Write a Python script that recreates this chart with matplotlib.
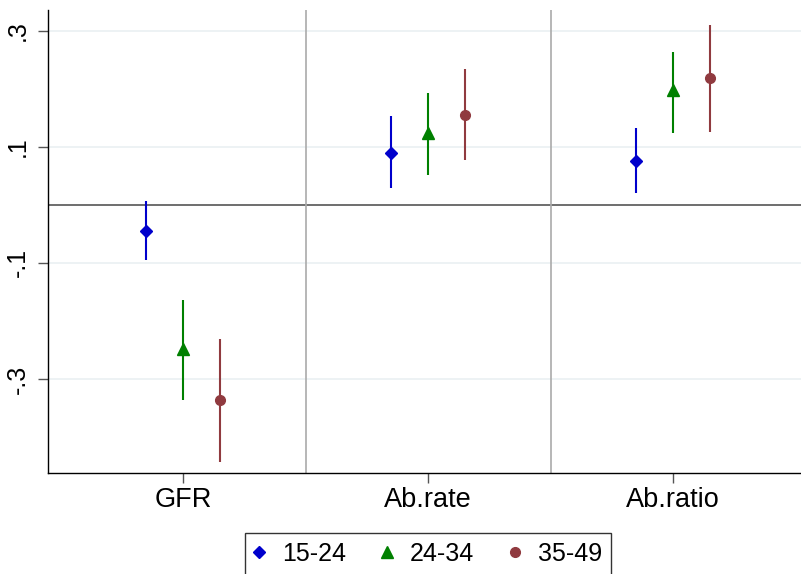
import numpy as np
import matplotlib
matplotlib.use('Agg')
import matplotlib.pyplot as plt

plt.rcParams['font.family'] = ['Liberation Sans', 'DejaVu Sans']

outcomes = ['GFR', 'Ab.rate', 'Ab.ratio']
groups = ['15-24', '24-34', '35-49']

# point estimates and confidence bounds, one row per age group, columns follow outcomes
coef = {
    '15-24': [-0.045, 0.090, 0.076],
    '24-34': [-0.248, 0.124, 0.197],
    '35-49': [-0.336, 0.155, 0.219],
}
ci_lo = {
    '15-24': [-0.095, 0.029, 0.021],
    '24-34': [-0.336, 0.052, 0.124],
    '35-49': [-0.443, 0.078, 0.126],
}
ci_hi = {
    '15-24': [0.006, 0.153, 0.133],
    '24-34': [-0.164, 0.193, 0.264],
    '35-49': [-0.231, 0.234, 0.310],
}

colors = {'15-24': '#0000cc', '24-34': '#008000', '35-49': '#903a3f'}
markers = {'15-24': 'D', '24-34': '^', '35-49': 'o'}
msizes = {'15-24': 6.5, '24-34': 8, '35-49': 7}
offsets = {'15-24': -0.15, '24-34': 0.0, '35-49': 0.15}

fig = plt.figure(figsize=(8.01, 5.74), dpi=100)
ax = fig.add_axes([0.060, 0.176, 0.94, 0.807])

yticks = [-0.3, -0.1, 0.1, 0.3]
for t in yticks:
    ax.axhline(t, color='#eaf0f2', lw=1.2, zorder=0)
ax.axhline(0, color='#555555', lw=1.2, zorder=1)
for sep in [1.5, 2.5]:
    ax.axvline(sep, color='#aaaaaa', lw=1.2, zorder=1)

x = np.arange(1, len(outcomes) + 1)
for g in groups:
    xs = x + offsets[g]
    c = np.array(coef[g])
    lo = np.array(ci_lo[g])
    hi = np.array(ci_hi[g])
    ax.vlines(xs, lo, hi, color=colors[g], lw=1.5, zorder=2)
    ax.plot(xs, c, linestyle='none', marker=markers[g], ms=msizes[g],
            color=colors[g], zorder=3, label=g)

ax.set_xlim(0.449, 3.522)
ax.set_ylim(-0.462, 0.336)
ax.set_xticks(x)
ax.set_xticklabels(outcomes, fontsize=19.5)
ax.set_yticks(yticks)
ax.set_yticklabels(['-.3', '-.1', '.1', '.3'], fontsize=18, rotation=90, va='center')
ax.tick_params(axis='x', length=7, width=1, color='#555555', pad=3)
ax.tick_params(axis='y', length=7, width=1, color='#555555', pad=6)
for s in ['top', 'right']:
    ax.spines[s].set_visible(False)
for s in ['left', 'bottom']:
    ax.spines[s].set_color('black')
    ax.spines[s].set_linewidth(1)

leg = fig.legend(loc='upper center', bbox_to_anchor=(428 / 801, 1 - 533 / 574),
                 ncol=3, fontsize=18, frameon=True, fancybox=False,
                 handletextpad=0.72, columnspacing=1.44, borderpad=0.35,
                 handlelength=0.4, borderaxespad=0)
leg.get_frame().set_edgecolor('black')
leg.get_frame().set_linewidth(1)

fig.savefig('out.png', dpi=100)
